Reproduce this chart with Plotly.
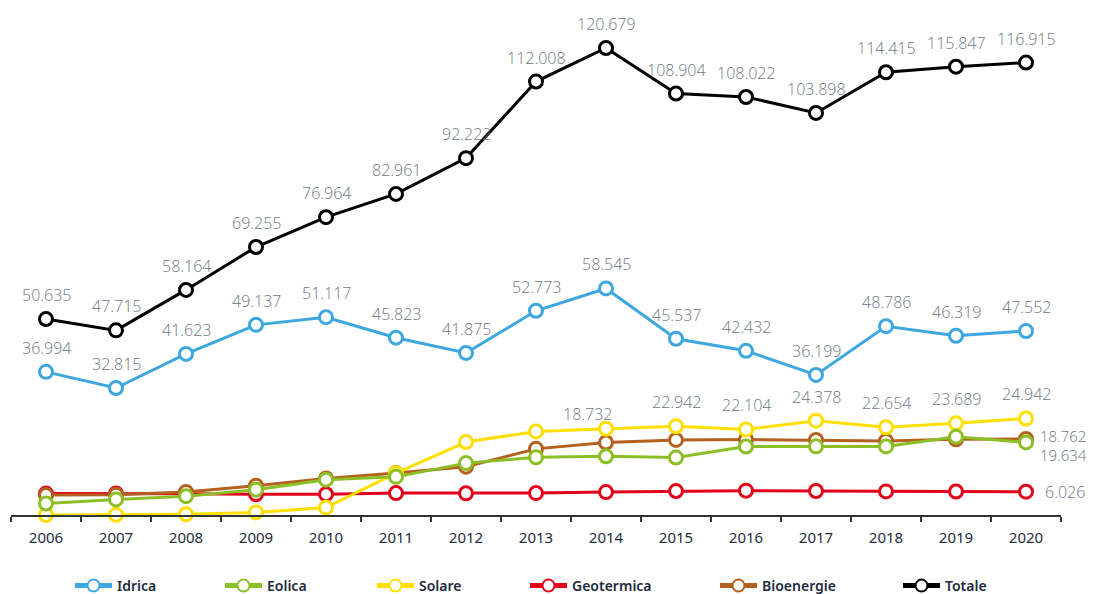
import plotly.graph_objects as go

years = [str(y) for y in range(2006, 2021)]

idrica = [36.994, 32.815, 41.623, 49.137, 51.117, 45.823, 41.875, 52.773, 58.545, 45.537, 42.432, 36.199, 48.786, 46.319, 47.552]
eolica = [2.971, 4.034, 4.861, 6.543, 9.126, 9.856, 13.407, 14.897, 15.178, 14.844, 17.689, 17.742, 17.716, 20.202, 18.762]
solare = [0.002, 0.039, 0.193, 0.676, 1.906, 10.796, 18.862, 21.589, 22.306, 22.942, 22.104, 24.378, 22.654, 23.689, 24.942]
geotermica = [5.527, 5.569, 5.520, 5.342, 5.376, 5.654, 5.592, 5.659, 5.916, 6.185, 6.289, 6.201, 6.105, 6.075, 6.026]
bioenergie = [5.141, 5.257, 5.967, 7.557, 9.439, 10.832, 12.487, 17.090, 18.732, 19.396, 19.508, 19.378, 19.154, 19.562, 19.634]
totale = [50.635, 47.715, 58.164, 69.255, 76.964, 82.961, 92.222, 112.008, 120.679, 108.904, 108.022, 103.898, 114.415, 115.847, 116.915]

names = ["Idrica", "Eolica", "Solare", "Geotermica", "Bioenergie", "Totale"]
colors = {"Idrica": "#3ea7df", "Eolica": "#8cbf26", "Solare": "#ffdf00",
          "Geotermica": "#e2001a", "Bioenergie": "#b4611f", "Totale": "#000000"}
series = {"Idrica": idrica, "Eolica": eolica, "Solare": solare,
          "Geotermica": geotermica, "Bioenergie": bioenergie, "Totale": totale}

# legend item left positions (px)
legend_px = {"Idrica": 70, "Eolica": 220, "Solare": 372, "Geotermica": 525, "Bioenergie": 715, "Totale": 898}
legend_ids = {n: ("legend" if i == 0 else f"legend{i+1}") for i, n in enumerate(names)}

W, H = 1095, 594
fig = go.Figure()

draw_order = ["Geotermica", "Bioenergie", "Solare", "Eolica", "Idrica", "Totale"]
for n in draw_order:
    fig.add_trace(go.Scatter(
        x=years, y=series[n], name=n, mode="lines+markers",
        line=dict(color=colors[n], width=3),
        marker=dict(symbol="circle", size=13, color="white",
                    line=dict(color=colors[n], width=3)),
        cliponaxis=False, legend=legend_ids[n],
    ))

label_font = dict(family="Open Sans", size=16, color="#6d7886", weight=300)
side_font = dict(family="Open Sans", size=15, color="#6d7886", weight=300)

def fmt(v):
    return f"{v:.3f}"

annotations = []
for n in ["Totale", "Idrica"]:
    for i, v in enumerate(series[n]):
        annotations.append(dict(x=i, y=v, text=fmt(v), showarrow=False,
                                yshift=24, font=label_font))
for i in range(9, len(years)):
    annotations.append(dict(x=i, y=solare[i], text=fmt(solare[i]), showarrow=False,
                            yshift=24, font=label_font))
# bioenergie 2014
annotations.append(dict(x=8, y=bioenergie[8], text=fmt(bioenergie[8]), showarrow=False,
                        xshift=-19, yshift=29, font=label_font))
last = len(years) - 1
# right-side labels for 2020
annotations.append(dict(x=last, y=eolica[-1], text=fmt(eolica[-1]), showarrow=False,
                        xanchor="left", xshift=12, yshift=6, font=side_font))
annotations.append(dict(x=last, y=bioenergie[-1], text=fmt(bioenergie[-1]), showarrow=False,
                        xanchor="left", xshift=12, yshift=-16, font=side_font))
annotations.append(dict(x=last, y=geotermica[-1], text=fmt(geotermica[-1]), showarrow=False,
                        xanchor="left", xshift=17, yshift=0, font=label_font))

layout_legends = {}
for n in names:
    layout_legends[legend_ids[n]] = dict(
        orientation="h", xref="container", yref="container",
        x=legend_px[n] / W, y=(H - 586) / H, xanchor="left", yanchor="middle",
        font=dict(family="Noto Sans", size=14, color="#1c2a3e", weight=600),
        itemsizing="constant", itemwidth=37, bgcolor="rgba(0,0,0,0)",
    )

fig.update_layout(
    width=W, height=H,
    margin=dict(l=11, r=34, t=10, b=79),
    paper_bgcolor="white", plot_bgcolor="white",
    showlegend=True,
    annotations=annotations,
    xaxis=dict(type="category", range=[-0.5, 14.5], tickson="boundaries",
               ticks="outside", ticklen=5, tickwidth=1.5, tickcolor="#333333",
               showline=True, linecolor="#333333", linewidth=1.5,
               showgrid=False, zeroline=False, ticklabelstandoff=8,
               tickfont=dict(family="Noto Sans", size=15, color="#1f2d40")),
    yaxis=dict(range=[0, 130.5], visible=False, showgrid=False, zeroline=False),
    **layout_legends,
)

fig.write_html("out.html", config={"displayModeBar": False},
               post_script="document.body.style.margin='0';")
